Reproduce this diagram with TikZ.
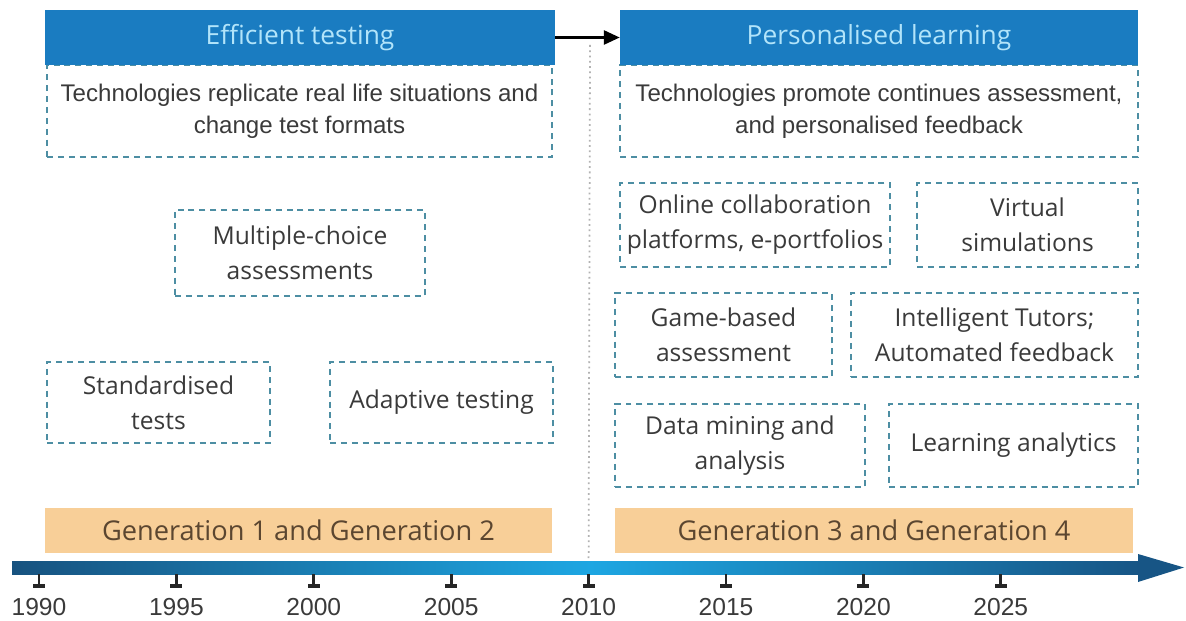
\documentclass[tikz,border=0pt]{standalone}
\usepackage{fontspec}
\setmainfont{Open Sans}
\newfontfamily\arialfont{Liberation Sans}
\usetikzlibrary{arrows.meta}

\definecolor{hdrblue}{HTML}{1A7CC1}
\definecolor{hdrtext}{HTML}{B2E4FA}
\definecolor{dashcol}{HTML}{4D8EA3}
\definecolor{genfill}{HTML}{F8CF98}
\definecolor{gentext}{HTML}{5B4630}
\definecolor{bodytext}{HTML}{3A3A3A}
\definecolor{bardark}{HTML}{17527F}
\definecolor{barlight}{HTML}{1DA6E2}
\definecolor{bardark2}{HTML}{175585}

\tikzset{
  hdr/.style={fill=hdrblue, text=hdrtext, minimum height=1.1cm, inner sep=0pt,
    font=\fontsize{15}{18}\selectfont},
  dbox/.style={draw=dashcol, line width=1.1pt, dash pattern=on 3.4pt off 2.8pt,
    text=bodytext, align=center, inner sep=0pt, font=\fontsize{14}{20}\selectfont},
  descbox/.style={dbox, minimum height=1.84cm, font=\arialfont\fontsize{13.7}{18}\selectfont},
  gen/.style={fill=genfill, text=gentext, minimum height=0.9cm, inner sep=0pt,
    font=\fontsize{15.5}{18}\selectfont},
  yr/.style={text=bodytext, inner sep=0pt, font=\arialfont\fontsize{14}{16}\selectfont}
}

\begin{document}
\begin{tikzpicture}[x=0.02cm, y=-0.02cm]
  \useasboundingbox (0,0) rectangle (1186,621);

  % descriptions
  \node[descbox, minimum width=10.1cm] (effdesc) at (299.5,111)
    {Technologies replicate real life situations and\\change test formats};
  \node[descbox, minimum width=10.36cm] (perdesc) at (879,111)
    {Technologies promote continues assessment,\\and personalised feedback};

  % headers
  \node[hdr, minimum width=10.2cm] (effhdr) at (300,37.5) {Efficient testing};
  \node[hdr, minimum width=10.36cm] (perhdr) at (879,37.5) {Personalised learning};
  \draw[line width=1.3pt, -{Triangle[length=9pt,width=8pt]}] (effhdr.east) -- (perhdr.west);

  % left side
  \node[dbox, minimum width=5cm, minimum height=1.72cm] (mcq) at (300,253)
    {Multiple-choice\\assessments};
  \node[dbox, minimum width=4.46cm, minimum height=1.62cm] (std) at (158.5,402.5)
    {Standardised\\tests};
  \node[dbox, minimum width=4.46cm, minimum height=1.62cm] (adapt) at (441.5,402.5)
    {Adaptive testing};

  % right side
  \node[dbox, minimum width=5.4cm, minimum height=1.68cm] (online) at (755,225)
    {Online collaboration\\platforms, e-portfolios};
  \node[dbox, minimum width=4.42cm, minimum height=1.68cm] (virt) at (1027.5,225)
    {Virtual\\simulations};
  \node[dbox, minimum width=4.34cm, minimum height=1.68cm] (game) at (723.5,335)
    {Game-based\\assessment};
  \node[dbox, minimum width=5.74cm, minimum height=1.68cm] (intel) at (994.5,335)
    {Intelligent Tutors;\\Automated feedback};
  \node[dbox, minimum width=5cm, minimum height=1.66cm] (mining) at (740,445.5)
    {Data mining and\\analysis};
  \node[dbox, minimum width=4.98cm, minimum height=1.66cm] (lana) at (1013.5,445.5)
    {Learning analytics};

  % generations
  \node[gen, minimum width=10.14cm] (gen12) at (298.5,530.5) {Generation 1 and Generation 2};
  \node[gen, minimum width=10.36cm] (gen34) at (874,530.5) {Generation 3 and Generation 4};

  % timeline
  \shade[left color=bardark, right color=barlight] (12,561) rectangle (590,574);
  \shade[left color=barlight, right color=bardark2] (590,561) rectangle (1140,574);
  \fill[bardark2] (1138,554) -- (1184,567.5) -- (1138,582) -- cycle;

  \coordinate (split) at (590,45);
  \foreach \yr [count=\i from 0] in {1990,1995,2000,2005,2010,2015,2020,2025} {
    \coordinate (t\yr) at (39+137.4*\i,574);
    \draw[line width=1.6pt, black!85] (t\yr) -- ++(0,12);
    \fill[black!85] (39+137.4*\i-6,584) rectangle ++(12,4);
    \node[yr] (y\yr) at (39+137.4*\i,607) {\yr};
  }
  \draw[gray!60, line width=1pt, dotted] (split) -- (t2010 |- 0,561);
\end{tikzpicture}
\end{document}
